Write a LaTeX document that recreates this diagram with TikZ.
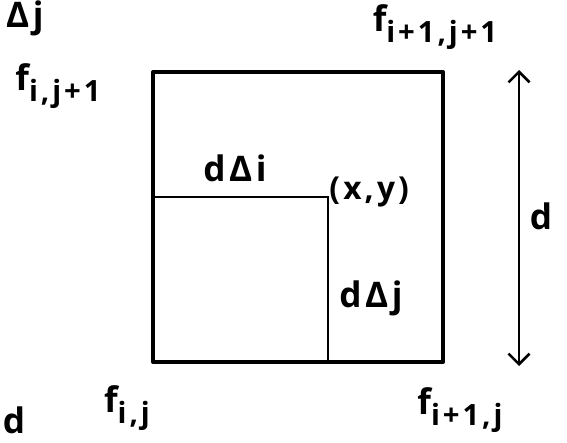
\documentclass[tikz,border=0pt]{standalone}
\usepackage{fontspec}
\setmainfont{Open Sans}
\newfontfamily\handfont[LetterSpace=10]{Open Sans}
\usetikzlibrary{arrows.meta,positioning}
\tikzset{
  framebox/.style={line width=3.4pt,line join=round},
  cutline/.style={line width=2.4pt},
  dimarr/.style={{Straight Barb[length=9pt,width=18pt]}-{Straight Barb[length=9pt,width=18pt]},line width=2.2pt},
  lbl/.style={font=\handfont\bfseries\fontsize{30}{34}\selectfont,inner sep=0pt}
}
\newcommand{\lowidx}[1]{\raisebox{-0.3em}{\fontsize{25}{28}\selectfont #1}}

\begin{document}
\begin{tikzpicture}[x=0.03cm,y=-0.03cm]
  \useasboundingbox (0,0) rectangle (567,442);

  % corners of the cell and the point inside
  \coordinate (c00) at (153,362);
  \coordinate (c10) at (443,362);
  \coordinate (c11) at (443,72);
  \coordinate (c01) at (153,72);
  \coordinate (pt) at (328,197);

  \draw[framebox] (c00) -- (c10) -- (c11) -- (c01) -- cycle;
  \draw[cutline] (c00 |- pt) -- (pt) -- (pt |- c00);

  % side length
  \coordinate (dtop) at (519,70);
  \coordinate (dbot) at (519,366);
  \draw[dimarr] (dtop) -- (dbot);
  \node[lbl] (dlab) at (541,216) {d};

  % corner values
  \node[lbl] (fij1) at (58,86) {f\lowidx{i,j+1}};
  \node[lbl] (fi1j1) at (435,27) {f\lowidx{i+1,j+1}};
  \node[lbl] (fij) at (127,408) {f\lowidx{i,j}};
  \node[lbl] (fi1j) at (460,410) {f\lowidx{i+1,j}};

  % offsets
  \node[lbl] (ddi) at (235,168) {dΔi};
  \node[lbl,font=\handfont\bfseries\fontsize{27}{30}\selectfont,right=1pt of pt,yshift=4pt] (xy) {(x,y)};
  \node[lbl] (ddj) at (371,298) {dΔj};

  % text at the edges
  \node[lbl,anchor=north west] (topcut) at (6,1) {Δj};
  \node[lbl,anchor=center] (botcut) at (14,420) {d};
\end{tikzpicture}
\end{document}
